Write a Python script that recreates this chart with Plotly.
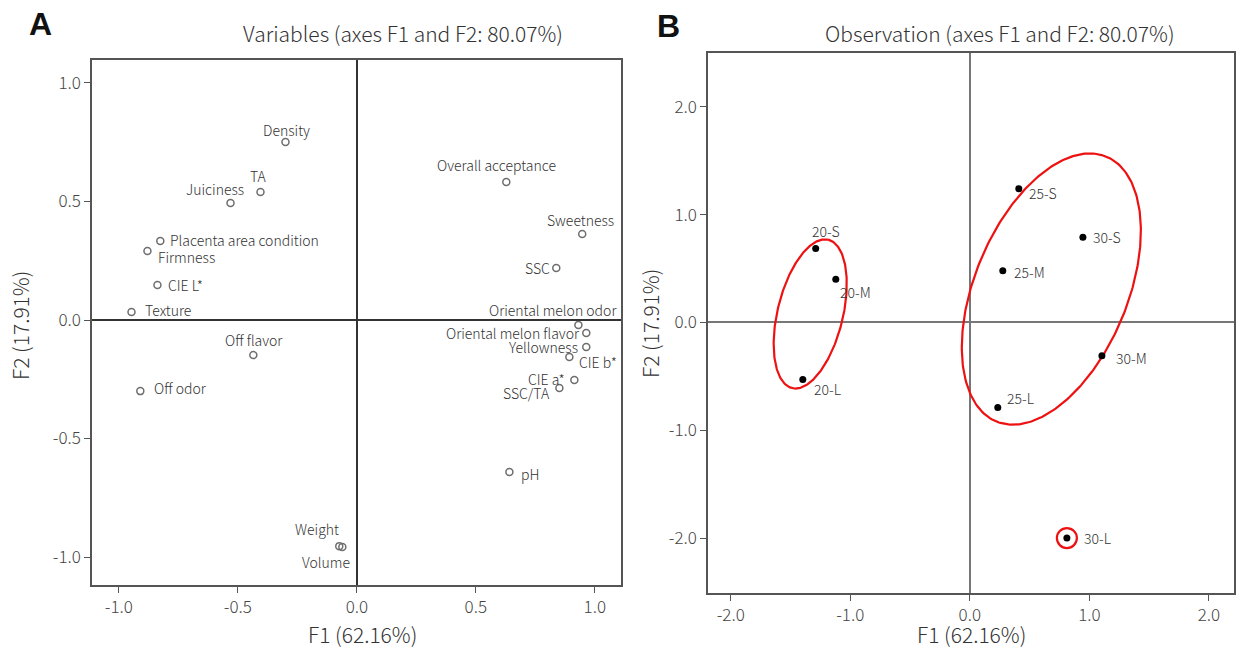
import numpy as np
import plotly.graph_objects as go

# ---------------- data ----------------
var_names = ["Density", "TA", "Juiciness", "Placenta area condition", "Firmness",
             "CIE L*", "Texture", "Off flavor", "Off odor", "Weight", "Volume",
             "Overall acceptance", "Sweetness", "SSC", "Oriental melon odor",
             "Oriental melon flavor", "Yellowness", "CIE b*", "CIE a*", "SSC/TA", "pH"]
var_f1 = [-0.300, -0.405, -0.531, -0.826, -0.880, -0.838, -0.947, -0.435, -0.910, -0.074, -0.061,
          0.628, 0.947, 0.838, 0.931, 0.964, 0.964, 0.893, 0.914, 0.851, 0.641]
var_f2 = [0.751, 0.540, 0.494, 0.333, 0.291, 0.148, 0.034, -0.148, -0.300, -0.954, -0.958,
          0.582, 0.363, 0.219, -0.021, -0.055, -0.114, -0.156, -0.253, -0.287, -0.641]

obs_names = ["20-S", "20-M", "20-L", "25-S", "30-S", "25-M", "30-M", "25-L", "30-L"]
obs_f1 = [-1.289, -1.121, -1.397, 0.410, 0.946, 0.276, 1.105, 0.234, 0.812]
obs_f2 = [0.687, 0.400, -0.530, 1.240, 0.790, 0.480, -0.310, -0.790, -2.000]

# group ellipses: centre x, centre y, semi-major, semi-minor, angle (deg)
ell_cx = [-1.335, 0.682]
ell_cy = [0.079, 0.310]
ell_a = [0.705, 1.313]
ell_b = [0.275, 0.648]
ell_ang = [78.1, 70.8]
single_group = ["30-L"]

ticks_a = [-1.0, -0.5, 0.0, 0.5, 1.0]
ticktext_a = ["-1.0", "-0.5", "0.0", "0.5", "1.0"]
ticks_b = [-2.0, -1.0, 0.0, 1.0, 2.0]
ticktext_b = ["-2.0", "-1.0", "0.0", "1.0", "2.0"]

# ---------------- label placement (style) ----------------
var_label_pos = {
    "Density": ("center", 1, 12), "TA": ("center", -2, 16), "Juiciness": ("center", -16, 14),
    "Placenta area condition": ("left", 8, 1), "Firmness": ("left", 9, -6),
    "CIE L*": ("left", 9, 0), "Texture": ("left", 11, 2), "Off flavor": ("center", 1, 15),
    "Off odor": ("left", 12, 3), "Weight": ("right", 2, 17), "Volume": ("right", 10, -15),
    "Overall acceptance": ("center", -10, 17), "Sweetness": ("center", -2, 14),
    "SSC": ("right", -4, 0), "Oriental melon odor": ("right", 41, 15),
    "Oriental melon flavor": ("right", -4, 0), "Yellowness": ("right", -6, 0),
    "CIE b*": ("left", 8, -5), "CIE a*": ("right", -7, 1), "SSC/TA": ("right", -7, -5),
    "pH": ("left", 10, -2),
}
obs_label_pos = {
    "20-S": ("center", 10, 17), "20-M": ("left", 2, -13), "20-L": ("left", 9, -9),
    "25-S": ("left", 8, -4), "30-S": ("left", 8, 0), "25-M": ("left", 9, -1),
    "30-M": ("left", 12, -2), "25-L": ("left", 7, 10), "30-L": ("left", 15, 0),
}

FONT = "Noto Sans CJK KR, Noto Sans, sans-serif"
TXT = "#333333"
WT = 300

fig = go.Figure()

# Panel A
fig.add_trace(go.Scatter(x=var_f1, y=var_f2, mode="markers", xaxis="x", yaxis="y",
                         marker=dict(symbol="circle-open", size=7, color="#6e6e6e",
                                     line=dict(width=1.5, color="#6e6e6e")),
                         showlegend=False, hoverinfo="text", text=var_names))

# Panel B ellipses
t = np.linspace(0, 2 * np.pi, 300)
for cx, cy, a, b, ang in zip(ell_cx, ell_cy, ell_a, ell_b, ell_ang):
    th = np.deg2rad(ang)
    ex = cx + a * np.cos(th) * np.cos(t) - b * np.sin(th) * np.sin(t)
    ey = cy + a * np.sin(th) * np.cos(t) + b * np.cos(th) * np.sin(t)
    fig.add_trace(go.Scatter(x=ex, y=ey, mode="lines", xaxis="x2", yaxis="y2",
                             line=dict(color="#ee1111", width=2.2),
                             showlegend=False, hoverinfo="skip"))

sx = [obs_f1[obs_names.index(n)] for n in single_group]
sy = [obs_f2[obs_names.index(n)] for n in single_group]
fig.add_trace(go.Scatter(x=sx, y=sy, mode="markers", xaxis="x2", yaxis="y2",
                         marker=dict(symbol="circle-open", size=20, color="#ee1111",
                                     line=dict(width=2.2, color="#ee1111")),
                         showlegend=False, hoverinfo="skip"))

fig.add_trace(go.Scatter(x=obs_f1, y=obs_f2, mode="markers", xaxis="x2", yaxis="y2",
                         marker=dict(symbol="circle", size=7, color="black"),
                         showlegend=False, hoverinfo="text", text=obs_names))

annotations = []
for n, x, y in zip(var_names, var_f1, var_f2):
    anc, dx, dy = var_label_pos[n]
    annotations.append(dict(x=x, y=y, xref="x", yref="y", text=n, showarrow=False,
                            xanchor=anc, yanchor="middle", xshift=dx, yshift=dy,
                            font=dict(family=FONT, size=14, color=TXT, weight=WT)))
for n, x, y in zip(obs_names, obs_f1, obs_f2):
    anc, dx, dy = obs_label_pos[n]
    annotations.append(dict(x=x, y=y, xref="x2", yref="y2", text=n, showarrow=False,
                            xanchor=anc, yanchor="middle", xshift=dx, yshift=dy,
                            font=dict(family=FONT, size=14, color=TXT, weight=WT)))

W, H = 1240, 649


def px(xp):
    return xp / W


def py(yp):
    return 1 - yp / H


# titles and panel letters
annotations += [
    dict(x=px(403), y=py(33), xref="paper", yref="paper", text="Variables (axes F1 and F2: 80.07%)",
         showarrow=False, xanchor="center", yanchor="middle", font=dict(family=FONT, size=21, color=TXT, weight=WT)),
    dict(x=px(1000), y=py(33), xref="paper", yref="paper", text="Observation (axes F1 and F2: 80.07%)",
         showarrow=False, xanchor="center", yanchor="middle", font=dict(family=FONT, size=21, color=TXT, weight=WT)),
    dict(x=px(40), y=py(24), xref="paper", yref="paper", text="<b>A</b>",
         showarrow=False, xanchor="center", yanchor="middle", font=dict(family="Liberation Sans, Arial", size=32, color="#111")),
    dict(x=px(668), y=py(26), xref="paper", yref="paper", text="<b>B</b>",
         showarrow=False, xanchor="center", yanchor="middle", font=dict(family="Liberation Sans, Arial", size=32, color="#111")),
    dict(x=px(362), y=py(634), xref="paper", yref="paper", text="F1 (62.16%)",
         showarrow=False, xanchor="center", yanchor="middle", font=dict(family=FONT, size=21, color=TXT, weight=WT)),
    dict(x=px(972), y=py(634), xref="paper", yref="paper", text="F1 (62.16%)",
         showarrow=False, xanchor="center", yanchor="middle", font=dict(family=FONT, size=21, color=TXT, weight=WT)),
    dict(x=px(20), y=py(326), xref="paper", yref="paper", text="F2 (17.91%)", textangle=-90,
         showarrow=False, xanchor="center", yanchor="middle", font=dict(family=FONT, size=21, color=TXT, weight=WT)),
    dict(x=px(650), y=py(324), xref="paper", yref="paper", text="F2 (17.91%)", textangle=-90,
         showarrow=False, xanchor="center", yanchor="middle", font=dict(family=FONT, size=21, color=TXT, weight=WT)),
]

axis_common = dict(showgrid=False, zeroline=True, showline=True, mirror=True,
                   linecolor="#555555", linewidth=1.5, ticks="outside", ticklen=6,
                   tickcolor="#555555", tickwidth=1.3, automargin=False,
                   tickfont=dict(family=FONT, size=17, color="#444444", weight=WT))

fig.update_layout(
    width=W, height=H, margin=dict(l=0, r=0, t=0, b=0),
    paper_bgcolor="white", plot_bgcolor="white",
    xaxis=dict(domain=[px(92), px(621)], range=[-1.113, 1.11], tickvals=ticks_a, ticktext=ticktext_a,
               anchor="y", zerolinecolor="#333333", zerolinewidth=1.5, **axis_common),
    yaxis=dict(domain=[py(585), py(60)], range=[-1.118, 1.097], tickvals=ticks_a, ticktext=ticktext_a,
               anchor="x", zerolinecolor="#333333", zerolinewidth=1.5, **axis_common),
    xaxis2=dict(domain=[px(708), px(1234)], range=[-2.19, 2.21], tickvals=ticks_b, ticktext=ticktext_b,
                anchor="y2", zerolinecolor="#777777", zerolinewidth=1.5, **axis_common),
    yaxis2=dict(domain=[py(593), py(53)], range=[-2.51, 2.5], tickvals=ticks_b, ticktext=ticktext_b,
                anchor="x2", zerolinecolor="#777777", zerolinewidth=1.5, **axis_common),
    annotations=annotations,
)

fig.write_html("out.html", config={"displayModeBar": False},
               post_script="document.body.style.margin='0';document.body.style.overflow='hidden';")
